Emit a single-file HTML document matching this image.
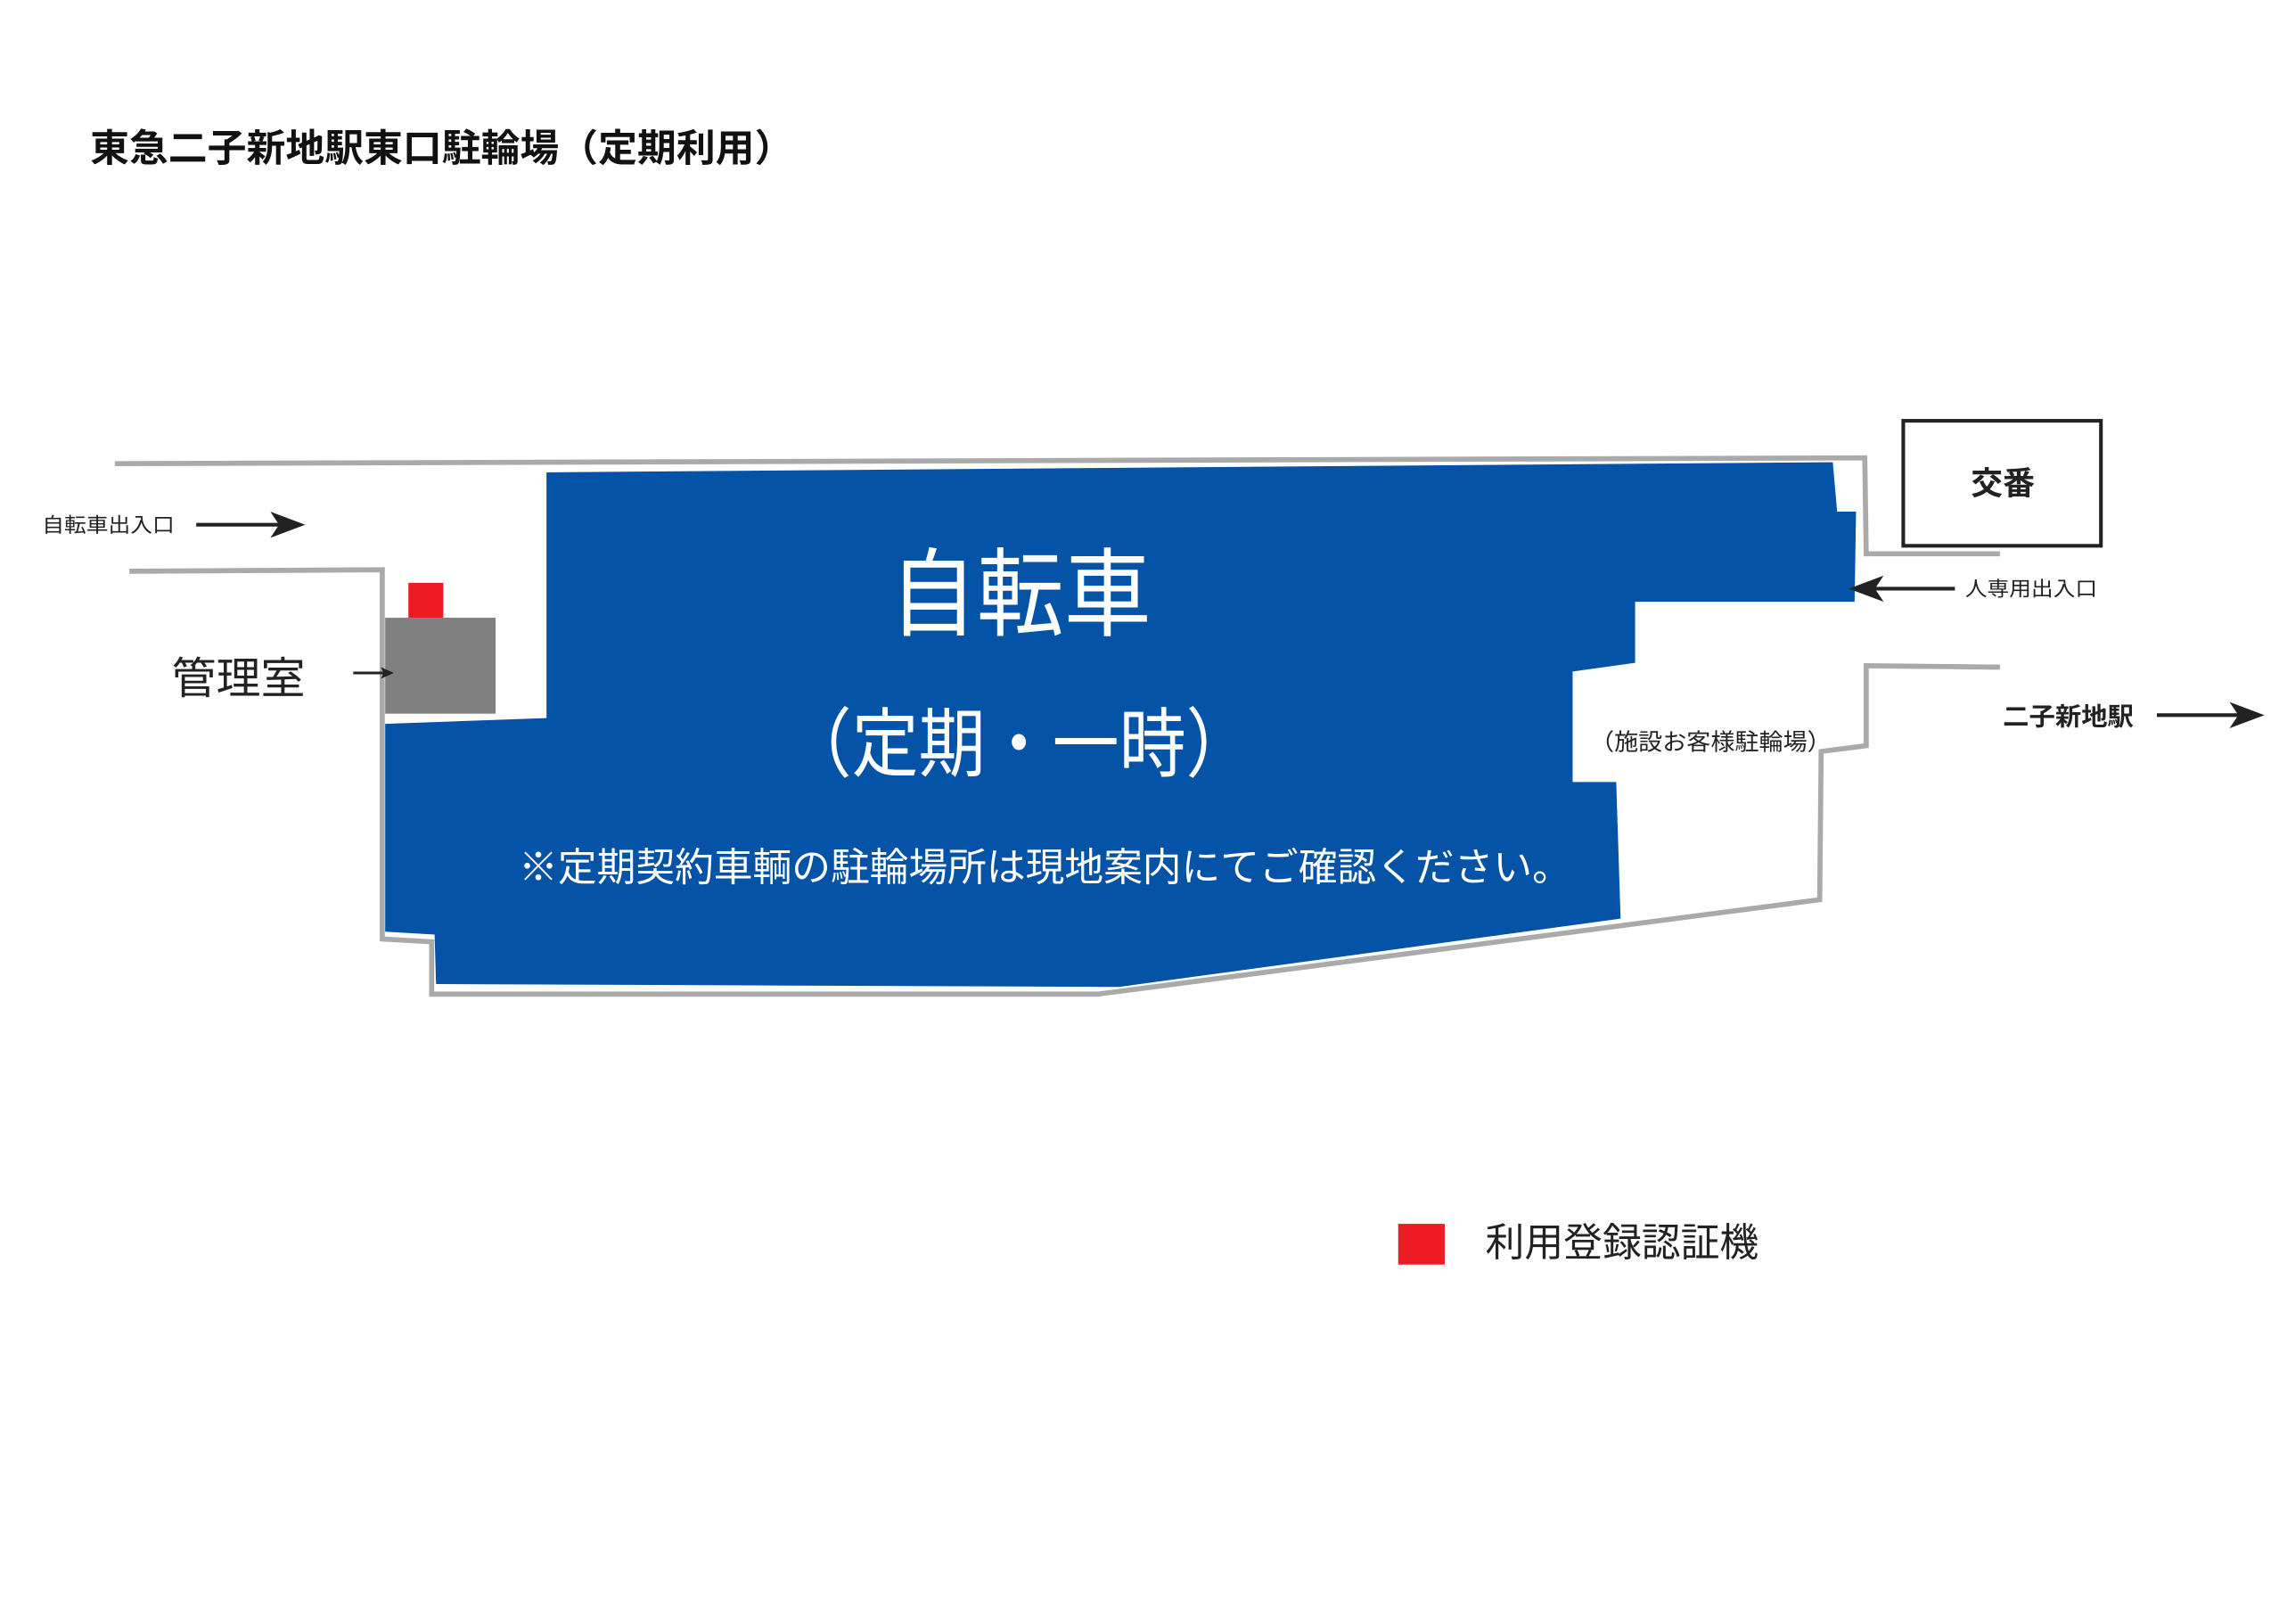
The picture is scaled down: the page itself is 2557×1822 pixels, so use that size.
<!DOCTYPE html>
<html><head><meta charset="utf-8"><style>
html,body{margin:0;padding:0;background:#fff;}
svg{display:block;}
text{font-family:"Liberation Sans","Noto Sans CJK JP",sans-serif;}
</style></head><body>
<svg width="2557" height="1822" viewBox="0 0 1568 1117.3" xmlns="http://www.w3.org/2000/svg">
<rect width="1568" height="1117.3" fill="#fff"/>
<text x="62" y="111" font-size="26" font-weight="bold" fill="#111" textLength="484" lengthAdjust="spacingAndGlyphs">東急二子新地駅東口駐輪場（定期利用）</text>
<g fill="none" stroke="#aaa" stroke-width="3.5" stroke-linejoin="miter">
<polyline points="79,319 1283,315 1284,381 1376,381"/>
<polyline points="89,393 263,392 263,646 297,648 297,684 755,684 1252,619 1253,517 1284,513 1284,458 1376,459"/>
</g>
<polygon fill="#0453a6" points="376,325 1261,318 1264,352 1277,352 1276,414 1125,414 1125,456 1082,462 1082,538 1112,538 1115,632 770,679 300,677 299,643 265,641 265,498 376,494"/>
<rect x="265" y="425" width="76" height="66" fill="#808080"/>
<rect x="281" y="401" width="24" height="24" fill="#ed1c24"/>
<rect x="1309.5" y="289.5" width="136" height="86" fill="#fff" stroke="#222" stroke-width="2.5"/>
<text x="1356" y="340" font-size="22" font-weight="bold" fill="#222" textLength="44" lengthAdjust="spacingAndGlyphs">交番</text>
<text x="29" y="366" font-size="14" fill="#222" textLength="91" lengthAdjust="spacingAndGlyphs">自転車出入口</text>
<line x1="135" y1="361" x2="200" y2="361" stroke="#222" stroke-width="2.5"/>
<polygon points="210,361 186,352 192,361 186,370" fill="#222"/>
<text x="118" y="477" font-size="30" fill="#222" textLength="92" lengthAdjust="spacingAndGlyphs">管理室</text>
<line x1="243" y1="463" x2="266" y2="463" stroke="#222" stroke-width="1.8"/>
<polygon points="271,463 262,459 264,463 262,467" fill="#222"/>
<text x="612" y="432" font-size="66" fill="#fff" textLength="180" lengthAdjust="spacingAndGlyphs">自転車</text>
<text x="540" y="530" font-size="52" fill="#fff" textLength="322" lengthAdjust="spacingAndGlyphs">（定期・一時）</text>
<text x="357" y="606" font-size="27" fill="#fff" textLength="724" lengthAdjust="spacingAndGlyphs">※定期契約車輌の駐輪場所は現地案内にてご確認ください。</text>
<text x="1352" y="410" font-size="14" fill="#222" textLength="91" lengthAdjust="spacingAndGlyphs">人専用出入口</text>
<line x1="1345" y1="405" x2="1282" y2="405" stroke="#222" stroke-width="2.5"/>
<polygon points="1272,405 1296,396 1290,405 1296,414" fill="#222"/>
<text x="1094" y="516" font-size="16" fill="#222" textLength="166" lengthAdjust="spacingAndGlyphs">（施設お客様駐輪場）</text>
<text x="1378" y="499" font-size="17" font-weight="bold" fill="#222" textLength="90" lengthAdjust="spacingAndGlyphs">二子新地駅</text>
<line x1="1484" y1="492" x2="1548" y2="492" stroke="#222" stroke-width="2.5"/>
<polygon points="1558,492 1534,483 1540,492 1534,501" fill="#222"/>
<rect x="962" y="842" width="32" height="28" fill="#ed1c24"/>
<text x="1022" y="864" font-size="27" fill="#222" textLength="188" lengthAdjust="spacingAndGlyphs">利用登録認証機</text>
</svg>
</body></html>
